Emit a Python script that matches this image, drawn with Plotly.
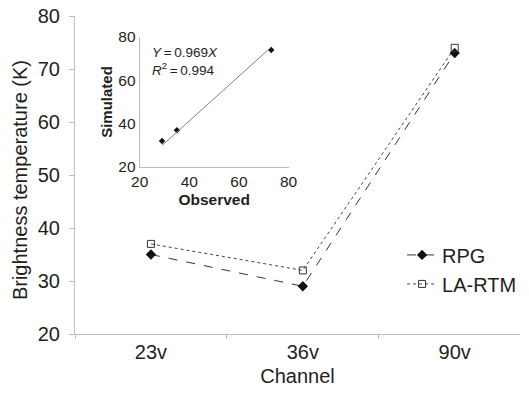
import plotly.graph_objects as go

# Channel brightness temperatures (K)
channels = ["23v", "36v", "90v"]
rpg = [35, 29, 73]
la_rtm = [37, 32, 74]

# Inset: observed vs simulated
observed = [29, 35, 73]
simulated = [32, 37, 74]
slope = 0.969
r2 = 0.994

FONT = "Liberation Sans, Arial, sans-serif"
TXT = "#231f20"
AXIS = "#bdbdbd"

fig = go.Figure()

fig.add_trace(go.Scatter(
    x=channels, y=rpg, name="RPG", mode="lines+markers",
    line=dict(color="#333333", width=1, dash="dash"),
    marker=dict(symbol="diamond", size=8, color="#111111"),
))
fig.add_trace(go.Scatter(
    x=channels, y=la_rtm, name="LA-RTM", mode="lines+markers",
    line=dict(color="#444444", width=1, dash="dot"),
    marker=dict(symbol="square-open", size=7, color="#333333", line=dict(width=1)),
))

# Inset scatter and fitted line
fig.add_trace(go.Scatter(
    x=observed, y=simulated, mode="markers", showlegend=False,
    marker=dict(symbol="diamond", size=5, color="#111111"),
    xaxis="x2", yaxis="y2",
))
fit_x = [min(observed), max(observed)]
fit_y = [v / slope for v in fit_x]
fig.add_trace(go.Scatter(
    x=fit_x, y=fit_y, mode="lines", showlegend=False,
    line=dict(color="#808080", width=1),
    xaxis="x2", yaxis="y2",
))

fig.update_layout(
    width=529, height=393,
    margin=dict(l=75, r=0, t=16, b=59),
    paper_bgcolor="white", plot_bgcolor="white",
    font=dict(family=FONT, color=TXT),
    xaxis=dict(
        type="category", range=[-0.5, 2.43],
        showline=True, linecolor=AXIS, linewidth=1,
        ticks="outside", tickson="boundaries", ticklen=4, tickcolor=AXIS,
        showgrid=False, zeroline=False,
        tickfont=dict(size=20, color=TXT),
        title=dict(text="Channel", font=dict(size=20, color=TXT), standoff=6),
    ),
    yaxis=dict(
        range=[20, 80], dtick=10,
        showline=True, linecolor=AXIS, linewidth=1,
        ticks="outside", ticklen=5, tickcolor=AXIS, ticklabelstandoff=5,
        showgrid=False, zeroline=False,
        tickfont=dict(size=20, color=TXT),
    ),
    xaxis2=dict(
        domain=[0.1454, 0.48], anchor="y2", range=[20, 80], dtick=20,
        showline=True, linecolor=AXIS, linewidth=1, ticks="",
        showgrid=False, zeroline=False,
        tickfont=dict(size=15.5, color=TXT),
        title=dict(text="<b>Observed</b>", font=dict(size=15.5, color=TXT), standoff=5),
    ),
    yaxis2=dict(
        domain=[0.525, 0.934], anchor="x2", range=[20, 80], dtick=20,
        showline=True, linecolor=AXIS, linewidth=1, ticks="",
        showgrid=False, zeroline=False,
        tickfont=dict(size=15.5, color=TXT),
        title=dict(text="<b>Simulated</b>", font=dict(size=15, color=TXT), standoff=2),
    ),
    legend=dict(
        x=0.735, y=0.31, xanchor="left", yanchor="top",
        font=dict(size=20, color=TXT), bgcolor="rgba(0,0,0,0)",
        tracegroupgap=0, itemwidth=30,
    ),
    annotations=[
        dict(text="Brightness temperature (K)", xref="paper", yref="paper",
             x=-56 / 454, y=(334 - 180) / 318, xanchor="center", yanchor="middle",
             textangle=-90, showarrow=False, font=dict(size=20, color=TXT)),
        dict(text=f"<i>Y</i>\u2009=\u2009{slope}<i>X</i>", xref="paper", yref="paper",
             x=(152 - 75) / 454, y=(334 - 53) / 318, xanchor="left", yanchor="middle",
             showarrow=False, font=dict(size=13.5, color=TXT)),
        dict(text=f"<i>R</i><sup>2</sup>\u2009=\u2009{r2}", xref="paper", yref="paper",
             x=(152 - 75) / 454, y=(334 - 69) / 318, xanchor="left", yanchor="middle",
             showarrow=False, font=dict(size=13.5, color=TXT)),
    ],
)

fig.write_html("out.html")
